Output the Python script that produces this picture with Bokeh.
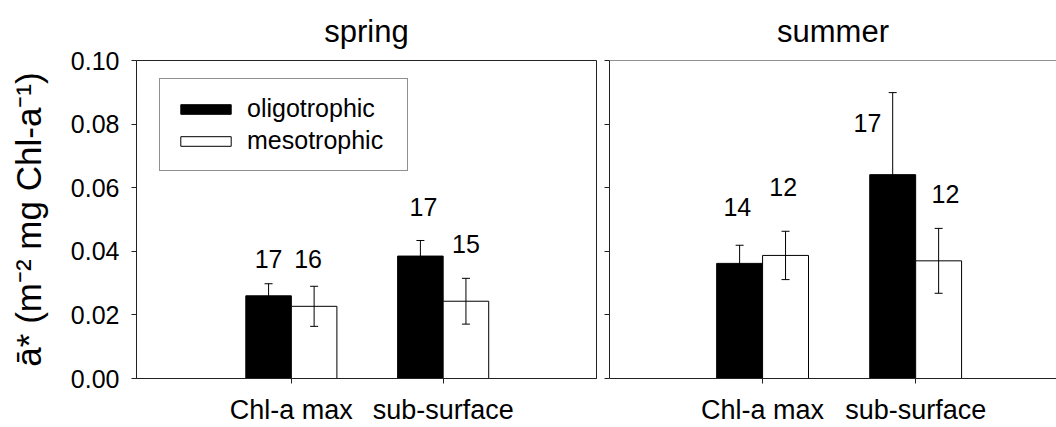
from bokeh.plotting import figure
from bokeh.models import (ColumnDataSource, Whisker, TeeHead, FixedTicker, Legend,
                          LegendItem, Span, NumeralTickFormatter, Range1d)
from bokeh.core.properties import value
from bokeh.layouts import row
from bokeh.embed import file_html
from bokeh.resources import INLINE

# ---------------- data ----------------
categories = ["Chl-a max", "sub-surface"]
seasons = ["spring", "summer"]
groups = ["oligotrophic", "mesotrophic"]
y_ticks = [0.00, 0.02, 0.04, 0.06, 0.08, 0.10]

spring_oligo = [0.0260, 0.0385]
spring_oligo_err = [0.0038, 0.0049]
spring_meso = [0.0227, 0.0243]
spring_meso_err = [0.0063, 0.0072]

summer_oligo = [0.0362, 0.0641]
summer_oligo_err = [0.0057, 0.0258]
summer_meso = [0.0387, 0.0370]
summer_meso_err = [0.0076, 0.0102]

spring_oligo_n = [17, 17]
spring_meso_n = [16, 15]
summer_oligo_n = [14, 17]
summer_meso_n = [12, 12]

# placement of the sample-size annotations (y in data units, dx in category units)
spring_oligo_lab_y = [0.0375, 0.0538]
spring_meso_lab_y = [0.0375, 0.0422]
summer_oligo_lab_y = [0.0538, 0.0803]
summer_meso_lab_y = [0.0603, 0.0581]
spring_oligo_lab_dx = [0.0, 0.02]
spring_meso_lab_dx = [-0.04, 0.0]
summer_oligo_lab_dx = [-0.015, -0.165]
summer_meso_lab_dx = [-0.015, 0.045]

FONT = "Liberation Sans"
BAR_W = 0.30
H = 427


def panel(title, oligo, oligo_err, meso, meso_err, n_o, n_m, ly_o, ly_m, dx_o, dx_m,
          x_start, x_end, width, left_border, right_border, first):
    p = figure(width=width, height=H, output_backend="svg", toolbar_location=None,
               x_range=Range1d(x_start, x_end), y_range=Range1d(0, 0.10),
               min_border_left=left_border, min_border_right=right_border,
               min_border_top=60, min_border_bottom=47)
    p.title.text = title
    p.title.align = "center"
    p.title.vertical_align = "middle"
    p.title.text_font = FONT
    p.title.text_font_size = "31px"
    p.title.text_font_style = "normal"
    p.title.text_color = "black"
    p.title.standoff = 21
    p.grid.visible = False
    p.background_fill_color = "white"
    p.border_fill_color = "white"

    pos = [i + 1 for i in range(len(categories))]
    xo = [c - BAR_W / 2 for c in pos]
    xm = [c + BAR_W / 2 for c in pos]
    src_o = ColumnDataSource(dict(x=xo, top=oligo,
                                  up=[v + e for v, e in zip(oligo, oligo_err)],
                                  lo=[v - e for v, e in zip(oligo, oligo_err)]))
    src_m = ColumnDataSource(dict(x=xm, top=meso,
                                  up=[v + e for v, e in zip(meso, meso_err)],
                                  lo=[v - e for v, e in zip(meso, meso_err)]))
    r_o = p.vbar(x="x", top="top", bottom=0, width=BAR_W, source=src_o,
                 fill_color="black", line_color="black", line_width=1)
    r_m = p.vbar(x="x", top="top", bottom=0, width=BAR_W, source=src_m,
                 fill_color="white", line_color="black", line_width=1)
    for s in (src_o, src_m):
        w = Whisker(base="x", upper="up", lower="lo", source=s, line_color="black",
                    line_width=1, level="overlay",
                    upper_head=TeeHead(size=8, line_color="black", line_width=1),
                    lower_head=TeeHead(size=8, line_color="black", line_width=1))
        p.add_layout(w)

    lab = ColumnDataSource(dict(
        x=[a + d for a, d in zip(xo, dx_o)] + [a + d for a, d in zip(xm, dx_m)],
        y=list(ly_o) + list(ly_m),
        t=[str(v) for v in n_o] + [str(v) for v in n_m]))
    p.text(x="x", y="y", text="t", source=lab, text_align="center",
           text_baseline="middle", text_font=value(FONT), text_font_size="25px",
           text_color="black")

    p.xaxis.ticker = FixedTicker(ticks=pos)
    p.xaxis.major_label_overrides = {c: n for c, n in zip(pos, categories)}
    p.xaxis.major_label_text_font = FONT
    p.xaxis.major_label_text_font_size = "27px"
    p.xaxis.major_label_text_color = "black"
    p.xaxis.major_label_standoff = 11
    p.yaxis.ticker = FixedTicker(ticks=y_ticks)
    p.yaxis.formatter = NumeralTickFormatter(format="0.00")
    p.yaxis.major_label_text_font = FONT
    p.yaxis.major_label_text_color = "black"
    for ax in (p.xaxis, p.yaxis):
        ax.major_tick_out = 5
        ax.major_tick_in = 0
        ax.minor_tick_line_color = None
        ax.axis_line_color = "#222222"
        ax.major_tick_line_color = "#222222"

    if first:
        p.yaxis.major_label_text_font_size = "25px"
        p.yaxis.major_label_standoff = 12
        p.yaxis.axis_label = "ā* (m⁻² mg Chl-a⁻¹)"
        p.yaxis.axis_label_text_font = FONT
        p.yaxis.axis_label_text_font_size = "35px"
        p.yaxis.axis_label_text_font_style = "normal"
        p.yaxis.axis_label_text_color = "black"
        p.yaxis.axis_label_standoff = 20
        p.outline_line_color = "#222222"
        leg = Legend(items=[LegendItem(label=groups[0], renderers=[r_o]),
                            LegendItem(label=groups[1], renderers=[r_m])],
                     location=(23, 207), orientation="vertical")
        leg.label_text_font = FONT
        leg.label_text_font_size = "25px"
        leg.label_text_color = "black"
        leg.border_line_color = "#222222"
        leg.border_line_width = 1
        leg.background_fill_color = "white"
        leg.background_fill_alpha = 1
        leg.padding = 14
        leg.spacing = 1
        leg.margin = 0
        leg.glyph_width = 63
        leg.glyph_height = 12
        leg.label_height = 31
        leg.label_width = 146
        leg.label_standoff = 10
        p.add_layout(leg, "center")
    else:
        p.yaxis.major_label_overrides = {t: "" for t in y_ticks}
        p.yaxis.major_label_text_font_size = "10px"
        p.yaxis.major_label_standoff = 0
        p.outline_line_color = None
        p.add_layout(Span(location=0.10, dimension="width", line_color="#222222",
                          line_width=1))
    return p


p1 = panel(seasons[0], spring_oligo, spring_oligo_err, spring_meso, spring_meso_err,
           spring_oligo_n, spring_meso_n, spring_oligo_lab_y, spring_meso_lab_y,
           spring_oligo_lab_dx, spring_meso_lab_dx,
           -0.02, 3.01, 600, 136, 4, True)
p2 = panel(seasons[1], summer_oligo, summer_oligo_err, summer_meso, summer_meso_err,
           summer_oligo_n, summer_meso_n, summer_oligo_lab_y, summer_meso_lab_y,
           summer_oligo_lab_dx, summer_meso_lab_dx,
           0.0, 2.92, 456, 9, 0, False)

layout = row(p1, p2, spacing=0)
open("out.html", "w").write(file_html(layout, INLINE))
